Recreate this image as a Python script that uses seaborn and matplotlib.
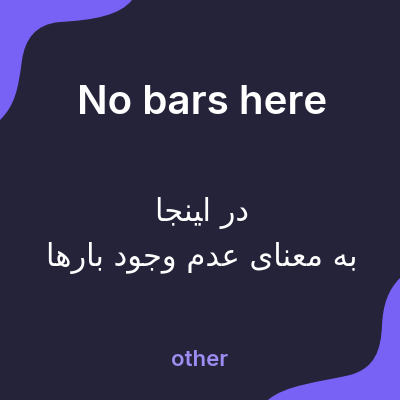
import matplotlib.pyplot as plt
import seaborn as sns
from matplotlib.path import Path
from matplotlib.patches import PathPatch

# texts of the empty-state card
title = "No bars here"
# Persian lines, logical order: "در اینجا" / "به معنای عدم وجود بارها"
# matplotlib has no Arabic shaping, so write presentation forms in visual order
line1 = "\uFE8E\uFEA0\uFEE8\uFEF4\uFE8D \uFEAD\uFEA9"
line2 = ("\uFE8E\uFEEB\uFEAD\uFE8E\uFE91 "
         "\uFEA9\uFEEE\uFE9F\uFEED "
         "\uFEE1\uFEAA\uFECB "
         "\uFEEF\uFE8E\uFEE8\uFECC\uFEE3 "
         "\uFEEA\uFE91")
label = "other"

bg = "#25233a"
accent = "#7862f6"

sns.set_theme(style="white")
plt.rcParams["font.family"] = ["Inter", "DejaVu Sans"]

fig = plt.figure(figsize=(4, 4), dpi=100, facecolor=bg)
ax = fig.add_axes([0, 0, 1, 1])
ax.set_facecolor(bg)
ax.set_xlim(0, 400)
ax.set_ylim(400, 0)
ax.axis("off")

# corner blobs
C = Path.CURVE4
tl = Path([(0, 0), (132, 0),
           (120, 15), (95, 20), (60, 22),
           (35, 24), (25, 40), (22, 60),
           (18, 90), (15, 105), (0, 120),
           (0, 0)],
          [Path.MOVETO, Path.LINETO, C, C, C, C, C, C, C, C, C, Path.CLOSEPOLY])
br = Path([(400, 278),
           (388, 290), (383, 305), (382, 325),
           (381, 350), (375, 368), (350, 375),
           (320, 382), (285, 385), (268, 400),
           (400, 400), (400, 278)],
          [Path.MOVETO, C, C, C, C, C, C, C, C, C, Path.LINETO, Path.CLOSEPOLY])
for p in (tl, br):
    ax.add_patch(PathPatch(p, facecolor=accent, edgecolor="none"))

ax.text(202, 104, title, color="white", fontsize=29, fontweight="semibold",
        ha="center", va="center")
ax.text(202, 213, line1, color="white", fontsize=22, ha="center", va="center",
        family=["DejaVu Sans"])
ax.text(202, 258, line2, color="white", fontsize=22, ha="center", va="center",
        family=["DejaVu Sans"])
ax.text(200, 360, label, color="#9d8cf2", fontsize=16, fontweight="semibold",
        ha="center", va="center")

fig.savefig("out.png", dpi=100, facecolor=bg)
